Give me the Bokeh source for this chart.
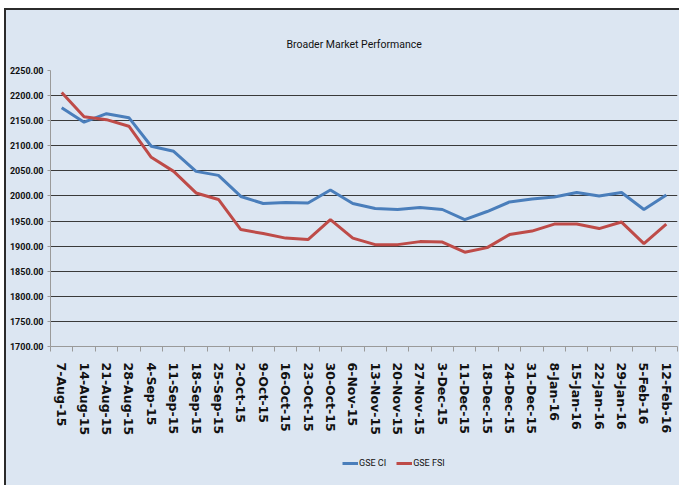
from bokeh.plotting import figure
from bokeh.layouts import column
from bokeh.models import (Range1d, FixedTicker, SingleIntervalTicker, NumeralTickFormatter,
                          Legend, LegendItem, Title)
from bokeh.embed import file_html
from bokeh.resources import INLINE

dates = ["7-Aug-15", "14-Aug-15", "21-Aug-15", "28-Aug-15", "4-Sep-15", "11-Sep-15",
         "18-Sep-15", "25-Sep-15", "2-Oct-15", "9-Oct-15", "16-Oct-15", "23-Oct-15",
         "30-Oct-15", "6-Nov-15", "13-Nov-15", "20-Nov-15", "27-Nov-15", "3-Dec-15",
         "11-Dec-15", "18-Dec-15", "24-Dec-15", "31-Dec-15", "8-Jan-16", "15-Jan-16",
         "22-Jan-16", "29-Jan-16", "5-Feb-16", "12-Feb-16"]
gse_ci = [2176, 2147, 2164, 2156, 2099, 2089, 2049, 2041, 1999, 1985, 1987, 1986,
          2012, 1985, 1975, 1973, 1977, 1973, 1953, 1969, 1988, 1994, 1998, 2007,
          2000, 2007, 1973, 2002]
gse_fsi = [2206, 2158, 2152, 2139, 2077, 2049, 2006, 1993, 1933, 1925, 1916, 1913,
           1953, 1916, 1903, 1903, 1909, 1908, 1888, 1897, 1923, 1930, 1944, 1944,
           1935, 1948, 1905, 1944]

BG = "#dce6f2"
BLUE = "#4a7ebb"
RED = "#be4b48"
NARROW = "Roboto"

xs = [i + 0.5 for i in range(len(dates))]

p = figure(width=673, height=438, output_backend="svg", toolbar_location=None,
           x_range=Range1d(0, len(dates)), y_range=Range1d(1700, 2250),
           background_fill_color=BG, border_fill_color=BG,
           min_border_left=40, min_border_right=2, min_border_top=60, min_border_bottom=102)
p.outline_line_color = None

p.line(xs, gse_ci, line_color=BLUE, line_width=3)
p.line(xs, gse_fsi, line_color=RED, line_width=3)

# x axis
p.xaxis.ticker = FixedTicker(ticks=xs, minor_ticks=list(range(len(dates) + 1)))
p.xaxis.major_label_overrides = {x: d for x, d in zip(xs, dates)}
p.xaxis.major_label_orientation = "vertical"
p.xaxis.major_tick_out = 0
p.xaxis.major_tick_in = 0
p.xaxis.minor_tick_out = 5
p.xaxis.minor_tick_in = 0
p.xaxis.minor_tick_line_color = "#9a9a9a"
p.xaxis.axis_line_color = "#9a9a9a"
p.xaxis.major_label_text_font = "DejaVu Sans"
p.xaxis.major_label_text_font_style = "bold"
p.xaxis.major_label_text_font_size = "12.5px"
p.xaxis.major_label_text_color = "#111111"
p.xaxis.major_label_standoff = 11
p.xgrid.grid_line_color = None

# y axis
p.yaxis.ticker = SingleIntervalTicker(interval=50)
p.yaxis.formatter = NumeralTickFormatter(format="0.00")
p.yaxis.major_tick_out = 3
p.yaxis.major_tick_in = 0
p.yaxis.minor_tick_line_color = None
p.yaxis.major_tick_line_color = "#9a9a9a"
p.yaxis.axis_line_color = "#9a9a9a"
p.yaxis.major_label_text_font = NARROW
p.yaxis.major_label_text_font_style = "bold"
p.yaxis.major_label_text_font_size = "9px"
p.yaxis.major_label_text_color = "#111111"
p.yaxis.major_label_standoff = 3
p.ygrid.grid_line_color = "#3a3a3a"
p.ygrid.grid_line_width = 1

# title
t = Title(text="Broader Market Performance", align="left", offset=236,
          text_font=NARROW, text_font_size="10.5px", text_font_style="normal",
          text_color="#111111", standoff=40)
p.add_layout(t, "above")

# legend strip below the chart (its lines lie outside its own view)
lg = figure(width=673, height=37, output_backend="svg", toolbar_location=None,
            x_range=Range1d(0, len(dates)), y_range=Range1d(0, 1),
            background_fill_color=BG, border_fill_color=BG, min_border=0)
lg.outline_line_color = None
lg.axis.visible = False
lg.grid.grid_line_color = None
q1 = lg.line(xs, gse_ci, line_color=BLUE, line_width=3)
q2 = lg.line(xs, gse_fsi, line_color=RED, line_width=3)

legend = Legend(items=[LegendItem(label="GSE CI", renderers=[q1]),
                       LegendItem(label="GSE FSI", renderers=[q2])],
                orientation="horizontal", location=(292, 16),
                background_fill_alpha=0, border_line_color=None,
                padding=0, margin=0, spacing=10, label_standoff=1,
                glyph_width=16, glyph_height=12, label_height=12,
                label_text_font=NARROW, label_text_font_size="9px",
                label_text_color="#111111")
lg.add_layout(legend, "center")

layout = column(p, lg, spacing=0)
layout.styles = {"border-top": "2px solid #2b2b2b", "border-left": "2px solid #2b2b2b",
                 "margin-left": "4px", "margin-top": "8px", "background-color": BG}

html = file_html(layout, INLINE)
html = html.replace("<body>", '<body style="margin:0;background:%s">' % BG, 1)
open("out.html", "w").write(html)
